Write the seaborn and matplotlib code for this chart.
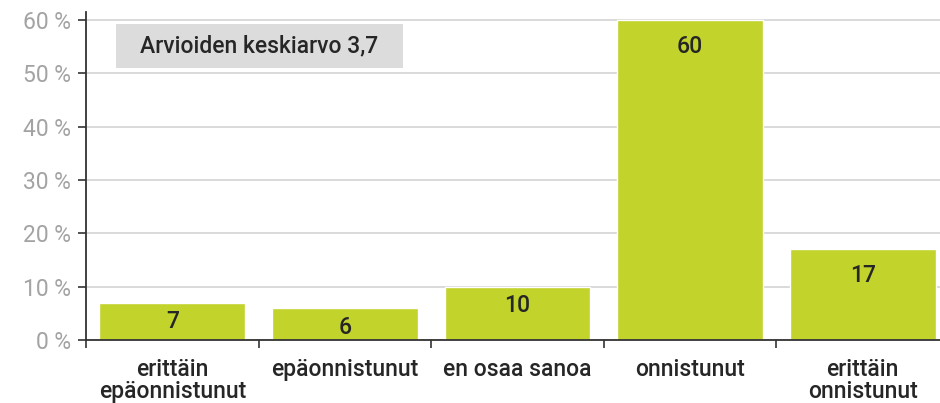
import matplotlib
matplotlib.use("Agg")
import matplotlib.pyplot as plt
from matplotlib.patches import Rectangle
from matplotlib.ticker import FixedLocator
import seaborn as sns
import pandas as pd

categories = ["erittäin\nepäonnistunut", "epäonnistunut", "en osaa sanoa",
              "onnistunut", "erittäin\nonnistunut"]
values = [7, 6, 10, 60, 17]
y_ticks = [0, 10, 20, 30, 40, 50, 60]
y_tick_labels = [f"{t} %" for t in y_ticks]
mean_label = "Arvioiden keskiarvo 3,7"

sns.set_theme(style="white")
plt.rcParams["font.family"] = ["Roboto", "DejaVu Sans"]

BAR = "#c2d32b"
DARK = "#262626"
GRID = "#cfcfcf"
FS = 16.5
WEIGHT = "medium"

df = pd.DataFrame({"cat": categories, "val": values})

fig = plt.figure(figsize=(9.40, 4.03), dpi=100)
ax = fig.add_axes([86 / 940, 63 / 403, 863 / 940, 328 / 403])

sns.barplot(data=df, x="cat", y="val", color=BAR, width=0.845,
            saturation=1, ax=ax, zorder=2)

ax.set_xlim(-0.5, len(categories) - 0.5)
ax.set_ylim(0, 61.5)
ax.set_xlabel("")
ax.set_ylabel("")

ax.set_yticks(y_ticks)
ax.set_yticklabels(y_tick_labels, color="#a3a3a3", fontsize=FS)
ax.tick_params(axis="y", length=6, width=1.2, color="#333333", pad=5, direction="out", left=True)
ax.yaxis.grid(True, color=GRID, linewidth=1.1, zorder=0)
ax.set_axisbelow(True)

ax.tick_params(axis="x", which="major", length=0, pad=13, labelsize=FS, labelcolor=DARK)
ax.xaxis.set_minor_locator(FixedLocator([i - 0.5 for i in range(len(categories) + 1)]))
ax.tick_params(axis="x", which="minor", length=6, width=1.2, color="#333333", bottom=True, direction="out")
for lbl in ax.get_xticklabels():
    lbl.set_linespacing(0.95)
    lbl.set_fontweight(WEIGHT)

for side in ("top", "right"):
    ax.spines[side].set_visible(False)
for side in ("left", "bottom"):
    ax.spines[side].set_color("#333333")
    ax.spines[side].set_linewidth(1.3)
    ax.spines[side].set_zorder(3)

# value labels inside the bars, near the top
for i, v in enumerate(values):
    y = v - 5.0 if v > 12 else v - 3.6
    ax.text(i, y, str(v), ha="center", va="center", fontsize=FS,
            fontweight=WEIGHT, color=DARK, zorder=4)

# mean rating box
x0, x1 = (116 - 86) / 863, (403 - 86) / 863
y0, y1 = (340 - 68) / 328, (340 - 24) / 328
ax.add_patch(Rectangle((x0, y0), x1 - x0, y1 - y0, transform=ax.transAxes,
                       facecolor="#dcdcdc", edgecolor="none", zorder=3))
ax.text((x0 + x1) / 2, (y0 + y1) / 2, mean_label, transform=ax.transAxes,
        ha="center", va="center", fontsize=FS, fontweight=WEIGHT, color=DARK, zorder=4)

fig.savefig("out.png", dpi=100)
